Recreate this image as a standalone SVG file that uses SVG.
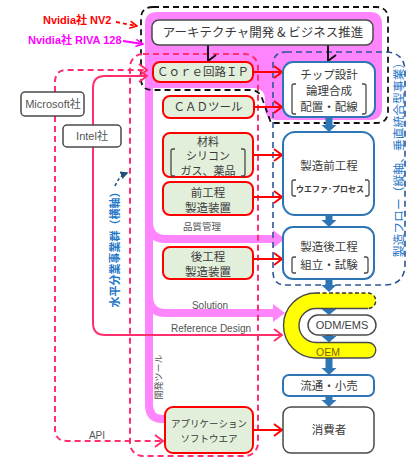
<svg xmlns="http://www.w3.org/2000/svg" width="416" height="461" viewBox="0 0 416 461">
<style>
.jp{font-family:"Noto Sans CJK JP","Liberation Sans",sans-serif;fill:#3a3a3a;}
.lt{font-family:"Liberation Sans","Noto Sans CJK JP",sans-serif;fill:#555;}
.g{fill:#e2efda;stroke:#ff0000;stroke-width:2;}
.b{fill:#fff;stroke:#2e75b6;stroke-width:2;}
.k{fill:#fff;stroke:#4a4a4a;stroke-width:1.5;}
.br{fill:none;stroke:#4a4a4a;stroke-width:1.3;}
.red{fill:none;stroke:#ff0000;stroke-width:2;}
.crim{fill:none;stroke:#ff2f6e;stroke-width:2;}
.crimd{fill:none;stroke:#ff2f6e;stroke-width:2;stroke-dasharray:6,4;}
.blk{fill:none;stroke:#111;stroke-width:2;}
.pk{fill:none;stroke:#ff85ff;stroke-width:8;}
.barr{fill:#2e75b6;}
</style>
<defs>
<marker id="mRed" viewBox="0 0 10 14" refX="9" refY="7" markerWidth="10" markerHeight="14" markerUnits="userSpaceOnUse" orient="auto"><path d="M1,1 L9,7 L1,13" fill="none" stroke="#ff0000" stroke-width="2"/></marker>
<marker id="mCrim" viewBox="0 0 10 14" refX="9" refY="7" markerWidth="10" markerHeight="14" markerUnits="userSpaceOnUse" orient="auto"><path d="M1,1 L9,7 L1,13" fill="none" stroke="#ff2f6e" stroke-width="2"/></marker>
<marker id="mBlk" viewBox="0 0 14 10" refX="7" refY="9" markerWidth="14" markerHeight="10" markerUnits="userSpaceOnUse" orient="auto-start-reverse"><path d="M1,1 L7,9 L13,1" fill="none" stroke="#111" stroke-width="2"/></marker>
<marker id="mMag" viewBox="0 0 10 10" refX="9" refY="5" markerWidth="9" markerHeight="9" markerUnits="userSpaceOnUse" orient="auto"><path d="M1,1 L9,5 L1,9" fill="none" stroke="#ff00ff" stroke-width="1.8"/></marker>
<marker id="mNv" viewBox="0 0 10 10" refX="9" refY="5" markerWidth="9" markerHeight="9" markerUnits="userSpaceOnUse" orient="auto"><path d="M1,1 L9,5 L1,9" fill="none" stroke="#ff0000" stroke-width="1.8"/></marker>
<marker id="mBlu" viewBox="0 0 10 10" refX="8" refY="5" markerWidth="8" markerHeight="8" markerUnits="userSpaceOnUse" orient="auto"><path d="M0,0 L10,5 L0,10 Z" fill="#1f4e79"/></marker>
</defs>

<!-- pink background region and tree -->
<g id="pink-region">
<path d="M157,12 H370 Q382,12 382,24 V108 Q382,120 370,120 H277 Q265,120 265,108 V100 Q265,88 253,88 H153 V100 H145 V24 Q145,12 157,12 Z" fill="#ff85ff"/>
<path class="pk" d="M149,95 V405 Q149,419 163,419 H167"/>
<path class="pk" d="M149,222 Q149,239 166,239 H275"/>
<polygon points="273,230 285,239 273,248" fill="#ff85ff"/>
<path class="pk" d="M149,296 Q149,313 166,313 H275"/>
<polygon points="273,304 285,313 273,322" fill="#ff85ff"/>
</g>

<!-- group outlines -->
<g id="groups">
<path d="M153,7 H376 Q388,7 388,19 V111 Q388,123 376,123 H271 L262,98 Q259,90 250,90 H152 Q141,90 141,79 V19 Q141,7 153,7 Z" fill="none" stroke="#111" stroke-width="1.8" stroke-dasharray="6,4"/>
<rect x="130" y="54" width="128" height="402" rx="13" class="crimd"/>
<path d="M286,52 H385 Q405,52 405,72 V264 Q405,285 384,285 H286 Q273,285 273,272 V65 Q273,52 286,52 Z" fill="none" stroke="#2f5597" stroke-width="1.6" stroke-dasharray="6,4"/>
</g>

<!-- connectors -->
<g id="connectors">
<line class="blk" x1="208" y1="45" x2="208" y2="61" marker-end="url(#mBlk)"/>
<line class="blk" x1="328" y1="45" x2="328" y2="61" marker-end="url(#mBlk)"/>
<line class="red" x1="253" y1="72" x2="282" y2="72" marker-end="url(#mRed)"/>
<line class="red" x1="254" y1="107" x2="282" y2="107" marker-end="url(#mRed)"/>
<line class="red" x1="253" y1="155" x2="282" y2="155" marker-end="url(#mRed)"/>
<line class="red" x1="253" y1="197" x2="282" y2="197" marker-end="url(#mRed)"/>
<line class="red" x1="253" y1="259" x2="282" y2="259" marker-end="url(#mRed)"/>
<line class="red" x1="253" y1="430" x2="282" y2="430" marker-end="url(#mRed)"/>
<path class="crim" d="M93,125 V88 Q93,76 105,76 H147" marker-end="url(#mCrim)"/>
<path class="crim" d="M93,147 V323 Q93,335 105,335 H282" marker-end="url(#mCrim)"/>
<path class="crimd" d="M55,92 V82 Q55,70 67,70 H147" marker-end="url(#mCrim)"/>
<path class="crimd" d="M55,116 V429 Q55,441 67,441 H163" marker-end="url(#mCrim)"/>
<path d="M116,22 L137,26" fill="none" stroke="#ff0000" stroke-width="1.8" stroke-dasharray="4,3" marker-end="url(#mNv)"/>
<path d="M123,41 L143,44" fill="none" stroke="#ff00ff" stroke-width="1.8" marker-end="url(#mMag)"/>
<path d="M115,186 Q119,176 127,173" fill="none" stroke="#1f4e79" stroke-width="1.6" stroke-dasharray="3,2.5" marker-end="url(#mBlu)"/>
<g class="barr">
<rect x="325.5" y="117" width="7" height="9"/><polygon points="321.5,125 336.5,125 329,132"/>
<rect x="325.5" y="215" width="7" height="6"/><polygon points="321.5,220 336.5,220 329,227"/>
<rect x="325.5" y="279" width="7" height="7"/><polygon points="321.5,285 336.5,285 329,292"/>
<rect x="325.5" y="308" width="7" height="2"/><polygon points="321.5,309 336.5,309 329,315"/>
<rect x="325.5" y="335" width="7" height="2"/><polygon points="321.5,336 336.5,336 329,342.5"/>
<rect x="325.5" y="358" width="7" height="11"/><polygon points="321.5,368 336.5,368 329,375"/>
<rect x="325.5" y="396" width="7" height="5"/><polygon points="321.5,400 336.5,400 329,407"/>
</g>
</g>

<!-- labels -->
<g id="labels">
<text x="43" y="24" font-family="Liberation Sans,Noto Sans CJK JP,sans-serif" font-weight="bold" font-size="11" fill="#ff0000">Nvidia社 NV2</text>
<text x="28" y="44" font-family="Liberation Sans,Noto Sans CJK JP,sans-serif" font-weight="bold" font-size="11" fill="#ff00ff">Nvidia社 RIVA 128</text>
<text class="jp" x="202" y="230" font-size="9.5" text-anchor="middle" style="fill:#555">品質管理</text>
<text class="lt" x="210" y="309" font-size="10" text-anchor="middle">Solution</text>
<text class="lt" x="211" y="332" font-size="10" text-anchor="middle">Reference Design</text>
<text class="lt" x="97" y="439" font-size="10" text-anchor="middle">API</text>
<text class="jp" transform="translate(162,377) rotate(-90)" font-size="9" text-anchor="middle" style="fill:#555">開発ツール</text>
<text class="jp" transform="translate(119,247) rotate(-90)" font-size="11" font-weight="bold" text-anchor="middle" style="fill:#1f77c8">水平分業事業群（横軸）</text>
<text class="jp" transform="translate(403,157) rotate(-90)" font-size="11.8" text-anchor="middle" style="fill:#1f77c8">製造フロー（縦軸、垂直統合型事業）</text>
</g>

<!-- nodes -->
<g id="microsoft"><rect x="21" y="92" width="63" height="24" rx="4" class="k"/><text class="lt" x="53" y="108" font-size="11" text-anchor="middle">Microsoft社</text></g>
<g id="intel"><rect x="63" y="125" width="58" height="22" rx="4" class="k"/><text class="lt" x="92" y="140" font-size="11" text-anchor="middle">Intel社</text></g>
<g id="arch"><rect x="152" y="20" width="221" height="25" rx="7" class="k"/><text class="jp" x="263" y="37" font-size="12.5" text-anchor="middle">アーキテクチャ開発 &amp; ビジネス推進</text></g>
<g id="core-ip"><rect x="153" y="62" width="100" height="20" rx="7" class="g"/><text class="jp" x="203" y="76" font-size="11.5" text-anchor="middle">Ｃｏｒｅ回路ＩＰ</text></g>
<g id="cad"><rect x="163" y="96" width="91" height="22" rx="7" class="g"/><text class="jp" x="208" y="111" font-size="11.5" text-anchor="middle">ＣＡＤツール</text></g>
<g id="materials"><rect x="163" y="133" width="90" height="44" rx="7" class="g"/>
<text class="jp" x="208" y="145.5" font-size="11" text-anchor="middle">材料</text>
<text class="jp" x="208" y="160" font-size="11" text-anchor="middle">シリコン</text>
<text class="jp" x="208" y="174.5" font-size="11" text-anchor="middle">ガス、薬品</text>
<path class="br" d="M175,149 H173 Q171,149 171,151 V174 Q171,176 173,176 H175"/>
<path class="br" d="M241,149 H243 Q245,149 245,151 V174 Q245,176 243,176 H241"/></g>
<g id="front-equip"><rect x="163" y="182" width="90" height="33" rx="7" class="g"/>
<text class="jp" x="208" y="197" font-size="11.5" text-anchor="middle">前工程</text>
<text class="jp" x="208" y="212" font-size="11.5" text-anchor="middle">製造装置</text></g>
<g id="back-equip"><rect x="163" y="247" width="90" height="32" rx="7" class="g"/>
<text class="jp" x="208" y="261" font-size="11.5" text-anchor="middle">後工程</text>
<text class="jp" x="208" y="276" font-size="11.5" text-anchor="middle">製造装置</text></g>
<g id="app-sw"><rect x="165" y="407" width="88" height="46" rx="8" class="g"/>
<text class="jp" x="209" y="427" font-size="9.5" text-anchor="middle">アプリケーション</text>
<text class="jp" x="209" y="442" font-size="9.5" text-anchor="middle">ソフトウエア</text></g>
<g id="chip-design"><rect x="283" y="62" width="92" height="55" rx="10" class="b"/>
<text class="jp" x="329" y="79" font-size="11.5" text-anchor="middle">チップ設計</text>
<text class="jp" x="329" y="95" font-size="11.5" text-anchor="middle">論理合成</text>
<text class="jp" x="329" y="111" font-size="11.5" text-anchor="middle">配置・配線</text>
<path class="br" d="M296,84 H294 Q292,84 292,86 V112 Q292,114 294,114 H296"/>
<path class="br" d="M362,84 H364 Q366,84 366,86 V112 Q366,114 364,114 H362"/></g>
<g id="front-process"><rect x="283" y="132" width="91" height="83" rx="12" class="b"/>
<text class="jp" x="329" y="170" font-size="11.5" text-anchor="middle">製造前工程</text>
<text class="jp" x="330" y="191.5" font-size="8" font-weight="bold" text-anchor="middle">ウエファ･プロセス</text>
<path class="br" d="M296,180 H294 Q292,180 292,182 V194 Q292,196 294,196 H296"/>
<path class="br" d="M365,180 H367 Q369,180 369,182 V194 Q369,196 367,196 H365"/></g>
<g id="back-process"><rect x="283" y="227" width="91" height="52" rx="10" class="b"/>
<text class="jp" x="329" y="251" font-size="11.5" text-anchor="middle">製造後工程</text>
<text class="jp" x="329" y="269" font-size="11.5" text-anchor="middle">組立・試験</text>
<path class="br" d="M296,257 H294 Q292,257 292,259 V271 Q292,273 294,273 H296"/>
<path class="br" d="M364,257 H366 Q368,257 368,259 V271 Q368,273 366,273 H364"/></g>
<g id="oem">
<path d="M316,293 H368 A7.75,7.75 0 0 1 368,308.5 H316 A17,17 0 0 0 316,342.5 H368 A7.75,7.75 0 0 1 368,358 H316 A32.5,32.5 0 0 1 316,293 Z" fill="#ffff00"/>
<path d="M368,308.5 H316 A17,17 0 0 0 316,342.5 H368 A7.75,7.75 0 0 1 368,358 H316 A32.5,32.5 0 0 1 316,293" fill="none" stroke="#4a4a4a" stroke-width="1.4"/>
<path d="M316,293 H368 A7.75,7.75 0 0 1 368,308.5" fill="none" stroke="#333" stroke-width="1.4" stroke-dasharray="4,2.5"/>
<text x="328" y="356" font-family="Liberation Sans,sans-serif" font-size="10.5" text-anchor="middle" fill="#7f6000">OEM</text>
</g>
<g id="odm-ems"><rect x="308" y="315" width="68" height="20" rx="10" class="k"/><text class="lt" x="342" y="329" font-size="11" text-anchor="middle" style="fill:#404040">ODM/EMS</text></g>
<g id="retail"><rect x="283" y="375" width="91" height="21" rx="6" class="b"/><text class="jp" x="329" y="390" font-size="11.5" text-anchor="middle">流通・小売</text></g>
<g id="consumer"><rect x="283" y="407" width="91" height="46" rx="8" class="k"/><text class="jp" x="329" y="434" font-size="11.5" text-anchor="middle">消費者</text></g>
</svg>
